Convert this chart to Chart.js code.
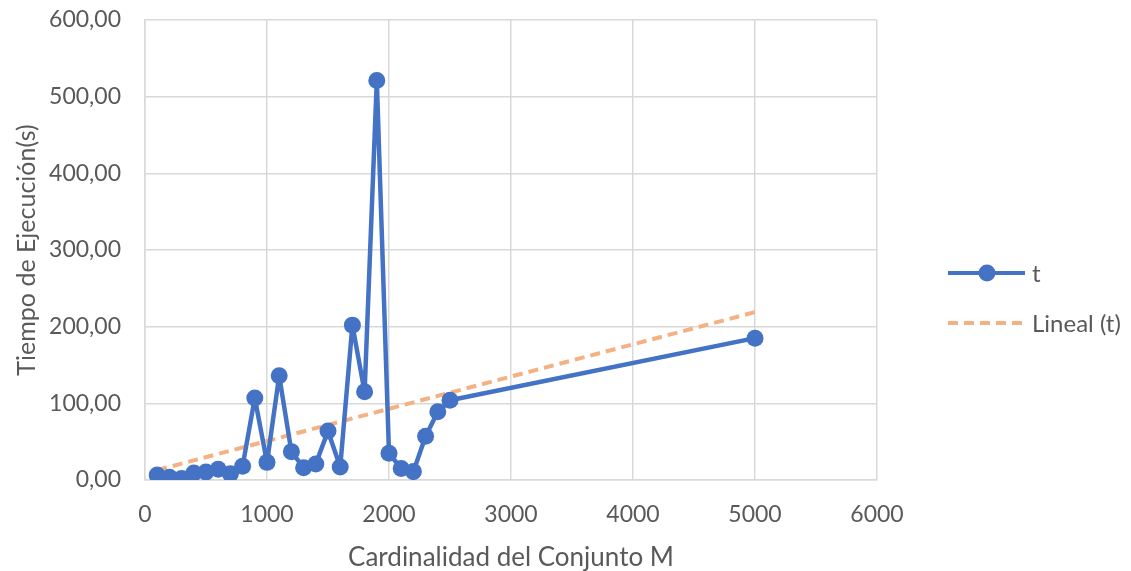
<!DOCTYPE html>
<html>
<head>
<meta charset="utf-8">
<script src="https://cdn.jsdelivr.net/npm/chart.js@4/dist/chart.umd.min.js"></script>
<style>
html,body{margin:0;padding:0;background:#fff;}
#wrap{width:1131px;height:571px;position:relative;}
</style>
</head>
<body>
<div id="wrap"><canvas id="c" width="1131" height="571"></canvas></div>
<script>
const cardinalidad = [100,200,300,400,500,600,700,800,900,1000,1100,1200,1300,1400,1500,1600,1700,1800,1900,2000,2100,2200,2300,2400,2500,5000];
const tiempo = [6.5,3.5,2,9,10.5,14,8,18,107,23,136,37,16,21,64,17,202,115,521,35,15,11,57,89,104,185];
const tendenciaX = [100,5000];
const tendenciaY = [13,219];
const seriesNames = ['t','Lineal (t)'];
const xTitle = 'Cardinalidad del Conjunto M';
const yTitle = 'Tiempo de Ejecución(s)';

const BLUE = '#4472C4', ORANGE = '#F4B183', GRID = '#D9D9D9', TXT = '#595959';
const FONT = "Lato, 'Open Sans', sans-serif";

const legendPlugin = {
  id: 'customLegend',
  afterDraw(chart) {
    const ctx = chart.ctx;
    ctx.save();
    const items = [
      {y: 273, color: BLUE, dash: [], marker: true, text: seriesNames[0]},
      {y: 323, color: ORANGE, dash: [10,6], marker: false, text: seriesNames[1]}
    ];
    items.forEach(it => {
      ctx.strokeStyle = it.color;
      ctx.lineWidth = 4;
      ctx.setLineDash(it.dash);
      ctx.beginPath();
      ctx.moveTo(948, it.y);
      ctx.lineTo(1025, it.y);
      ctx.stroke();
      ctx.setLineDash([]);
      if (it.marker) {
        ctx.fillStyle = it.color;
        ctx.beginPath();
        ctx.arc(987, it.y, 8.5, 0, Math.PI*2);
        ctx.fill();
      }
      ctx.fillStyle = TXT;
      ctx.font = "24px " + FONT;
      ctx.textBaseline = 'middle';
      ctx.textAlign = 'left';
      ctx.fillText(it.text, 1032, it.y + 1);
    });
    ctx.restore();
  }
};

new Chart(document.getElementById('c'), {
  type: 'line',
  data: {
    datasets: [
      {
        label: seriesNames[1],
        data: tendenciaX.map((x,i)=>({x, y: tendenciaY[i]})),
        borderColor: ORANGE,
        borderWidth: 4,
        borderDash: [10,6],
        pointRadius: 0,
        fill: false,
        order: 2
      },
      {
        label: seriesNames[0],
        data: cardinalidad.map((x,i)=>({x, y: tiempo[i]})),
        borderColor: BLUE,
        backgroundColor: BLUE,
        borderWidth: 4.5,
        borderJoinStyle: 'round',
        borderCapStyle: 'round',
        pointRadius: 8.5,
        pointBackgroundColor: BLUE,
        pointBorderWidth: 0,
        tension: 0,
        fill: false,
        order: 1
      }
    ]
  },
  options: {
    responsive: false,
    animation: false,
    events: [],
    layout: {padding: {top: 20, right: 254, left: 0, bottom: 0}},
    plugins: {legend: {display: false}, tooltip: {enabled: false}},
    scales: {
      x: {
        type: 'linear',
        min: 0, max: 6000,
        ticks: {stepSize: 1000, color: TXT, font: {family: FONT, size: 23}, padding: 21,
          callback: v => String(v)},
        grid: {color: GRID, lineWidth: 1.5, drawTicks: false},
        border: {color: GRID, width: 1.5},
        title: {display: true, text: xTitle, color: TXT, font: {family: FONT, size: 26}, padding: {top: 0, bottom: -2}},
        afterFit: s => { s.height = 91; s.paddingLeft = 0; s.paddingRight = 0; }
      },
      y: {
        min: 0, max: 600,
        ticks: {stepSize: 100, color: TXT, font: {family: FONT, size: 23}, padding: 24,
          callback: v => v.toFixed(2).replace('.', ',')},
        grid: {color: GRID, lineWidth: 1.5, drawTicks: false},
        border: {color: GRID, width: 1.5},
        title: {display: true, text: yTitle, color: TXT, font: {family: FONT, size: 25}, padding: {top: 12, bottom: 0}},
        afterFit: s => { s.width = 145; s.paddingTop = 0; s.paddingBottom = 0; }
      }
    }
  },
  plugins: [legendPlugin]
});
</script>
</body>
</html>
